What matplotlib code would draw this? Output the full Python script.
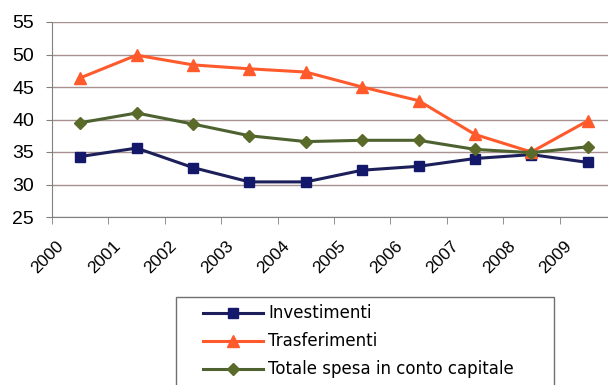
import matplotlib

matplotlib.use("Agg")
import matplotlib.pyplot as plt
import matplotlib.transforms as mtransforms
from matplotlib.patches import Rectangle
import numpy as np

plt.rcParams["font.family"] = ["Liberation Sans", "DejaVu Sans"]

years = ["2000", "2001", "2002", "2003", "2004", "2005", "2006", "2007", "2008", "2009"]
investimenti = [34.3, 35.6, 32.6, 30.4, 30.4, 32.2, 32.8, 34.0, 34.6, 33.4]
trasferimenti = [46.4, 49.9, 48.4, 47.8, 47.3, 45.0, 42.9, 37.7, 35.0, 39.8]
totale = [39.5, 41.0, 39.3, 37.5, 36.6, 36.8, 36.8, 35.4, 34.9, 35.8]

fig = plt.figure(figsize=(6.08, 3.85), dpi=100)
# plot area is cropped on the right in the original
ax = fig.add_axes([52 / 608, 1 - 217 / 385, 564 / 608, 195 / 385])

x = np.arange(len(years))
ax.plot(x, investimenti, color="#1c1f5a", lw=2.2, marker="s", ms=7,
        mfc="#14186a", mec="#14186a", label="Investimenti")
ax.plot(x, trasferimenti, color="#ff5a2c", lw=2.2, marker="^", ms=9,
        mfc="#ff5a2c", mec="#ff5a2c", label="Trasferimenti")
ax.plot(x, totale, color="#4d6230", lw=2.2, marker="D", ms=6.5,
        mfc="#5a6a28", mec="#5a6a28", label="Totale spesa in conto capitale")

ax.set_xlim(-0.5, 9.5)
ax.set_ylim(25, 55)
ax.set_yticks(range(25, 60, 5))
ax.yaxis.grid(True, color="#a89090", lw=1.0)
ax.set_axisbelow(True)
ax.tick_params(axis="y", labelsize=14, length=4, color="#808080", pad=9)

ax.set_xticks(x)
ax.set_xticklabels(years, rotation=45, ha="right", va="top",
                   rotation_mode="anchor", fontsize=12.5)
ax.set_xticks(np.arange(-0.5, 10, 1), minor=True)
ax.tick_params(axis="x", which="major", length=0, pad=15)
ax.tick_params(axis="x", which="minor", length=5, color="#808080")
shift = mtransforms.ScaledTranslation(-24 / 100, 0, fig.dpi_scale_trans)
for lab in ax.get_xticklabels():
    lab.set_transform(lab.get_transform() + shift)

for side in ("top", "right"):
    ax.spines[side].set_visible(False)
for side in ("left", "bottom"):
    ax.spines[side].set_color("#808080")

# legend box runs off the bottom edge of the picture
fig.patches.append(Rectangle((176 / 608, -0.05), 378 / 608, 1 - 297 / 385 + 0.05,
                             transform=fig.transFigure, fill=False,
                             edgecolor="#707070", lw=1.0))
fig.legend(loc="upper left", bbox_to_anchor=(200 / 608, 1 - 301 / 385),
           prop={"family": "DejaVu Sans", "size": 12}, frameon=False,
           handlelength=3.6, handletextpad=0.3, labelspacing=0.6,
           borderpad=0.2, borderaxespad=0)

fig.savefig("out.png", dpi=100)
